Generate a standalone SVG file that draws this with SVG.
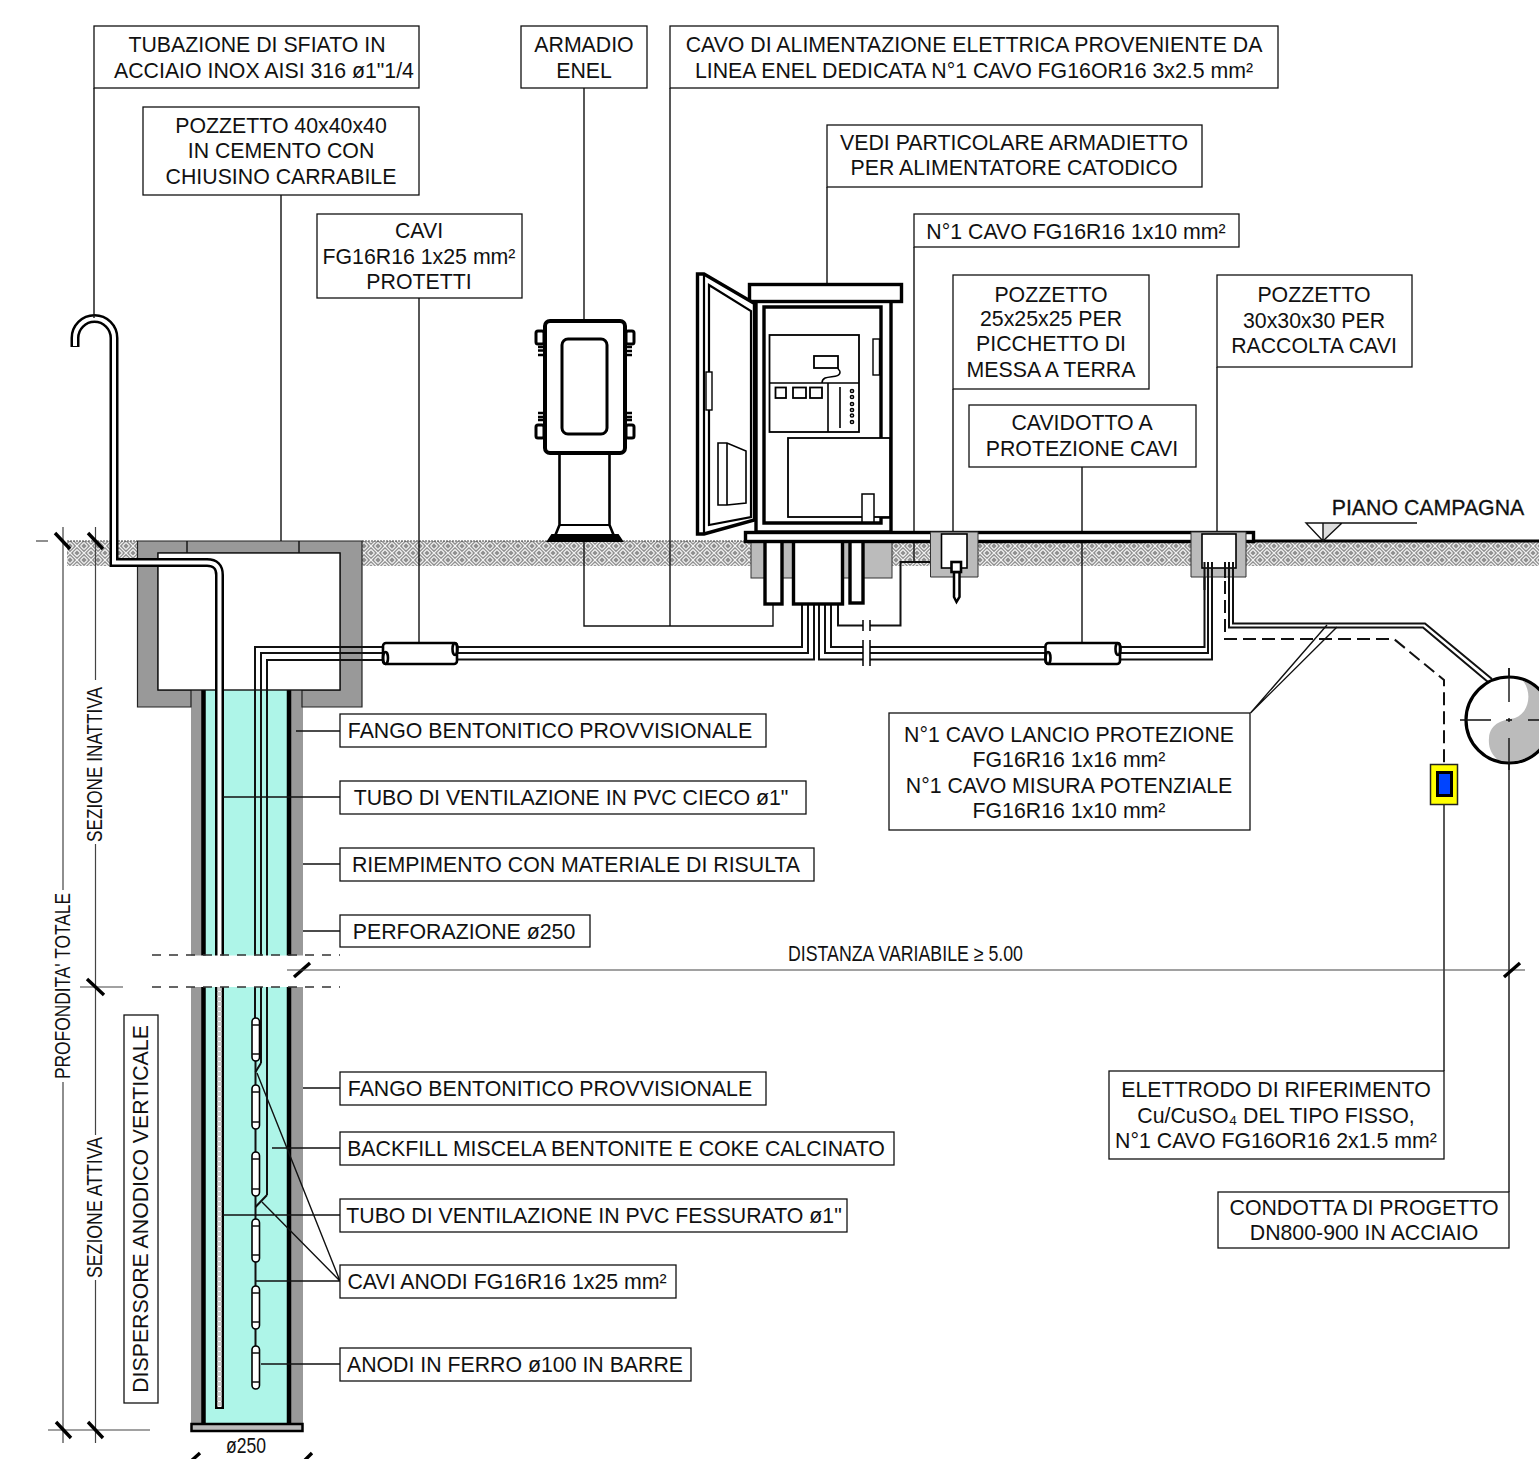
<svg xmlns="http://www.w3.org/2000/svg" width="1539" height="1459" viewBox="0 0 1539 1459">
<style>
text{font-family:"Liberation Sans",Arial,sans-serif;font-size:21.3px;fill:#111;text-anchor:middle}
.b{fill:#fff;stroke:#111;stroke-width:1.3}
.l{fill:none;stroke:#111;stroke-width:1.4}
.d{fill:none;stroke:#444;stroke-width:1.2}
.c{fill:none;stroke:#111;stroke-width:2}
.k{fill:none;stroke:#000;stroke-width:3.4}
.m{fill:none;stroke:#000;stroke-width:2.2}
.w{fill:#fff;stroke:#000;stroke-width:3.4}
.wm{fill:#fff;stroke:#000;stroke-width:2.2}
.t{stroke:#000;stroke-width:3.4}
.g{fill:#999}
.lg{fill:#bbb;stroke:#333;stroke-width:1}
.a{fill:#fff;stroke:#000;stroke-width:1.6}
.dash{fill:none;stroke:#333;stroke-width:1.3;stroke-dasharray:9 8}
.dash2{fill:none;stroke:#111;stroke-width:2;stroke-dasharray:13 6}
</style>
<defs>
<pattern id="h" width="14" height="14" patternUnits="userSpaceOnUse">
<rect width="14" height="14" fill="#909090"/>
<path d="M0 3.500L3.500 0M0 7L7 0M3.500 7L7 3.500M7 3.500L10.500 7M7 0L14 7M10.500 0L14 3.500M0 10.500L3.500 14M0 7L7 14M3.500 7L7 10.500M7 10.500L10.500 7M7 14L14 7M10.500 14L14 10.500" stroke="#f4f4f4" stroke-width="1.100" fill="none"/>
</pattern>
</defs>

<g id="ground">
<rect x="67" y="541" width="1472" height="25" fill="url(#h)"/>
<path class="d" d="M67 541H137M362 541H745" stroke-dasharray="2 1"/>
<path d="M1246 541H1539" stroke="#000" stroke-width="3" fill="none"/>
<path class="d" d="M36 541H48"/>
</g>

<g id="borehole">
<rect class="g" x="191" y="690" width="112" height="740"/>
<rect x="205" y="690" width="82" height="735" fill="#aef5e8"/>
<path d="M203.500 690V1425M289 690V1425" stroke="#000" stroke-width="4.500"/>
<rect x="191.500" y="1424" width="111" height="7" fill="#bbb" stroke="#000" stroke-width="2.500"/>
</g>

<g id="pozzetto-40">
<path class="g" d="M137.500 541H362V707H302V690H340V553H158V690H191V707H137.500Z" stroke="#222" stroke-width="1.200"/>
<rect x="158" y="553" width="182" height="137" fill="#fff" stroke="#111" stroke-width="1.400"/>
<path class="l" d="M187 541V553M299 541V553"/>
</g>

<g id="vent-pipe">
<path d="M75 347V338A19.500 19.500 0 0 1 114 338V562.500H207Q219.500 562.500 219.500 575V1409" fill="none" stroke="#000" stroke-width="9"/>
<path d="M75 346V338A19.500 19.500 0 0 1 114 338V562.500H207Q219.500 562.500 219.500 575V1407" fill="none" stroke="#fff" stroke-width="4"/>
<path d="M219.500 987V1406" stroke="#ccc" stroke-width="4" stroke-dasharray="4 1"/>
</g>

<g id="connectors">
<path class="l" d="M94 88V318M281 195V541M419 298V643M584 88V321M584 541V626H773V604M670 88V626M827 187V284M914 247V562M953 389V532M1082 467V643M1217 367V532M1444 804V1071M1509 668V1192"/>
<path class="l" d="M296 731H340M223 797H340M303 864H340M303 931H340M303 1088H340M272 1148H340M223 1215H340M256 1281H340M261 1364H340M257 1073L340 1281M262 1202L340 1281"/>
<path class="l" d="M1250.500 713L1327 625M1250.500 713L1337 627"/>
<path class="c" d="M255 1018V647H382M261 1063V653H382M267 1195V660H382"/>
<path class="c" d="M458 647H802V604M458 653H808V604M458 659.500H814V604M831 604V647H863M825 604V653H863M819 604V659.500H863"/>
<path class="c" d="M870 647H1045M870 653H1045M870 659.500H1045M1120 647H1204.500V562M1120 653H1208V562M1120 659.500H1212V562"/>
<path class="c" d="M838 604V625.500H863M870 625.500H900.500V562H951"/>
<path d="M863 640V666M870 640V666M863 620V631M870 620V631" stroke="#000" stroke-width="1.500" fill="none"/>
<path class="c" d="M1233 562V623.500H1425L1492 679M1229 562V627.500H1423L1488 682"/>
<path class="dash2" d="M1225 562V639H1394L1444 680V764"/>
<path class="c" d="M261 1063L255.500 1072M267 1195L255.500 1207"/>
<path class="c" d="M255.500 1061V1286M255.500 1329V1346"/>
</g>

<g id="anodes">
<rect class="a" x="252" y="1018" width="7.500" height="43" rx="3.700"/>
<rect class="a" x="252" y="1085" width="7.500" height="44" rx="3.700"/>
<rect class="a" x="252" y="1152" width="7.500" height="44" rx="3.700"/>
<rect class="a" x="252" y="1219" width="7.500" height="43" rx="3.700"/>
<rect class="a" x="252" y="1286" width="7.500" height="43" rx="3.700"/>
<rect class="a" x="252" y="1346" width="7.500" height="43" rx="3.700"/>
<path class="l" d="M252 1025H259.500M252 1054H259.500M252 1092H259.500M252 1122H259.500M252 1159H259.500M252 1189H259.500M252 1226H259.500M252 1255H259.500M252 1293H259.500M252 1322H259.500M252 1353H259.500M252 1382H259.500"/>
</g>

<g id="break">
<rect x="188" y="955.500" width="116" height="31.500" fill="#fff"/>
<path class="dash" d="M152 955H340M152 987H340"/>
<path d="M294 977L310 963" stroke="#000" stroke-width="3.400"/>
</g>

<g id="dimensions">
<path class="d" d="M63 527V890M63 1082V1443M95.500 527V680M95.500 844V1135M95.500 1280V1443M80 987H123M48 1430H150M287 970H1525"/>
<path class="t" d="M55 533L70 549M88 533L103 549M87 979L104 995M56 1422L71 1438M88 1422L103 1438M1504 977L1520 963M190 1462L200 1453M303 1462L312 1453"/>
<text transform="translate(70 986) rotate(-90)" textLength="186" lengthAdjust="spacingAndGlyphs">PROFONDITA' TOTALE</text>
<text transform="translate(102 764.500) rotate(-90)" textLength="155" lengthAdjust="spacingAndGlyphs">SEZIONE INATTIVA</text>
<text transform="translate(102 1207.500) rotate(-90)" textLength="141" lengthAdjust="spacingAndGlyphs">SEZIONE ATTIVA</text>
<text x="905.500" y="961" textLength="235" lengthAdjust="spacingAndGlyphs">DISTANZA VARIABILE ≥ 5.00</text>
<text x="246" y="1453" textLength="40" lengthAdjust="spacingAndGlyphs">ø250</text>
</g>

<g id="armadio-enel">
<rect x="536" y="331" width="8" height="13" rx="2" class="w" style="stroke-width:3"/>
<rect x="626" y="331" width="8" height="13" rx="2" class="w" style="stroke-width:3"/>
<rect x="536" y="425" width="8" height="13" rx="2" class="w" style="stroke-width:3"/>
<rect x="626" y="425" width="8" height="13" rx="2" class="w" style="stroke-width:3"/>
<path d="M538 347H544M538 350.500H544M538 355H544M626 347H632M626 351H632M626 355H632M538 413H544M538 417H544M538 420H544M626 413H632M626 417H632M626 420H632" stroke="#000" stroke-width="2.600"/>
<path class="wm" d="M559.500 453V525L555 536H614L609.500 525V453Z" style="stroke-width:2.600"/>
<path class="m" d="M559.500 525H609.500"/>
<path d="M548 541L552 535H618L622 541Z" fill="#000" stroke="#000" stroke-width="2"/>
<rect class="w" x="545" y="321" width="80" height="132" rx="5" style="stroke-width:4"/>
<rect x="562" y="339" width="45" height="95" rx="6" fill="#fff" stroke="#000" stroke-width="3"/>
</g>

<g id="armadietto">
<rect class="w" x="756" y="301" width="135" height="231"/>
<path class="k" d="M881 438V307H764V523H881V517H890"/>
<rect class="w" x="749.500" y="284.500" width="152" height="17"/>
<rect class="wm" x="788" y="438" width="102" height="79" style="stroke-width:1.800"/>
<rect class="wm" x="862" y="494" width="12" height="28" style="stroke-width:1.500"/>
<rect class="wm" x="769.500" y="335" width="89.500" height="97" style="stroke-width:1.800"/>
<path class="m" d="M769.500 383H859M828 383V432M840 387V428" style="stroke-width:1.600"/>
<rect class="wm" x="775.500" y="387.500" width="10.500" height="10.500" style="stroke-width:1.800"/>
<rect class="wm" x="793" y="387.500" width="13" height="10.500" style="stroke-width:1.800"/>
<rect class="wm" x="810" y="387.500" width="12" height="10.500" style="stroke-width:1.800"/>
<rect class="wm" x="814" y="356" width="24" height="12" style="stroke-width:1.800"/>
<path class="m" d="M822 383C822 373 840 380 840 372C840 370 838 370 838 368" style="stroke-width:1.500"/>
<g fill="none" stroke="#000" stroke-width="1.500">
<circle cx="852" cy="391" r="1.600"/><circle cx="852" cy="397" r="1.600"/><circle cx="852" cy="404" r="1.600"/><circle cx="852" cy="410" r="1.600"/><circle cx="852" cy="415.500" r="1.600"/><circle cx="852" cy="422" r="1.600"/>
</g>
<rect class="wm" x="873" y="339" width="6.500" height="36" style="stroke-width:1.400"/>
<path class="w" d="M697.500 274H704L754.500 303.500V520L704 534H697.500Z"/>
<path class="m" d="M704 274V534M709 285L751 311V517L709 525Z"/>
<rect class="wm" x="706" y="372" width="6" height="38" style="stroke-width:1.400"/>
<path class="m" d="M718 443H727L746 451V503L727 505H718ZM727 443V505" style="stroke-width:1.600"/>
</g>

<g id="base-plinth">
<rect x="751" y="541" width="141" height="37" class="lg"/>
<rect class="w" x="765" y="541" width="17" height="63"/>
<rect class="w" x="793.500" y="541" width="49" height="63"/>
<rect class="w" x="850" y="541" width="13" height="62"/>
<rect class="w" x="745.500" y="532.500" width="508" height="9"/>
</g>

<g id="pozzetto-25">
<path class="lg" d="M930.500 532H978V577H930.500Z"/>
<rect class="wm" x="941.500" y="534" width="25.500" height="34" style="stroke-width:1.600"/>
<path class="w" d="M954 572V597L956.500 602L959.500 597V572Z" style="stroke-width:2.500"/>
<rect class="wm" x="951.500" y="562" width="9.500" height="10" style="stroke-width:2.600"/>
</g>

<g id="pozzetto-30">
<path class="lg" d="M1191 532H1246V577H1191Z"/>
<rect class="wm" x="1202" y="534" width="34" height="34" style="stroke-width:1.600"/>
<path class="c" d="M1204.500 562V590M1208 562V590M1212 562V590M1229 562V600M1233 562V600"/>
<path d="M1225 562V578" stroke="#111" stroke-width="2"/>
</g>

<g id="cavidotti">
<g fill="none" stroke="#000" stroke-width="2.600">
<rect x="383" y="643" width="74" height="21" rx="3"/>
<ellipse cx="385.500" cy="658" rx="2.500" ry="6"/>
<ellipse cx="455" cy="649" rx="2.500" ry="6"/>
<rect x="1045.500" y="643" width="74.500" height="21" rx="3"/>
<ellipse cx="1048" cy="658" rx="2.500" ry="6"/>
<ellipse cx="1118" cy="649" rx="2.500" ry="6"/>
</g>
</g>

<g id="condotta">
<circle cx="1509" cy="720" r="43" fill="#fff"/>
<path d="M1523 681C1532 692 1530 712 1515 718C1505 720 1490 722 1489 738C1488 748 1492 755 1498 760A43 43 0 0 0 1552 720A43 43 0 0 0 1523 681Z" fill="#bbb"/>
<circle cx="1509" cy="720" r="43" fill="none" stroke="#000" stroke-width="3.200"/>
<path class="l" d="M1460 720H1491M1506 720H1512M1528 720H1539M1509 668V702M1509 718V722M1509 738V770"/>
</g>

<g id="electrode">
<rect x="1430.500" y="764.500" width="27" height="40" fill="#ff0" stroke="#222" stroke-width="1.500"/>
<rect x="1437.500" y="772.500" width="14" height="23" fill="#0044ff" stroke="#000" stroke-width="3"/>
</g>

<g id="piano-campagna">
<path d="M1323 523H1342L1323 541Z" fill="#ddd"/>
<path class="l" d="M1417 523H1306L1323 541L1342 523M1323 523V541"/>
<text x="1428" y="515" style="stroke:#111;stroke-width:.3">PIANO CAMPAGNA</text>
</g>

<g id="label-tubazione"><rect class="b" x="94" y="26" width="325" height="62"/><text x="257" y="52">TUBAZIONE DI SFIATO IN</text><text x="264" y="78">ACCIAIO INOX AISI 316 ø1"1/4</text></g>
<g id="label-pozzetto40"><rect class="b" x="143" y="107" width="276" height="88"/><text x="281" y="133">POZZETTO 40x40x40</text><text x="281" y="158">IN CEMENTO CON</text><text x="281" y="184">CHIUSINO CARRABILE</text></g>
<g id="label-cavi"><rect class="b" x="317" y="214" width="205" height="84"/><text x="419" y="238">CAVI</text><text x="419" y="264">FG16R16 1x25 mm²</text><text x="419" y="289">PROTETTI</text></g>
<g id="label-armadio"><rect class="b" x="521" y="26" width="126" height="62"/><text x="584" y="52">ARMADIO</text><text x="584" y="78">ENEL</text></g>
<g id="label-cavo"><rect class="b" x="670" y="26" width="608" height="62"/><text x="974" y="52">CAVO DI ALIMENTAZIONE ELETTRICA PROVENIENTE DA</text><text x="974" y="78">LINEA ENEL DEDICATA N°1 CAVO FG16OR16 3x2.5 mm²</text></g>
<g id="label-vedi"><rect class="b" x="827" y="125" width="375" height="62"/><text x="1014" y="150">VEDI PARTICOLARE ARMADIETTO</text><text x="1014" y="175">PER ALIMENTATORE CATODICO</text></g>
<g id="label-cavo10"><rect class="b" x="914" y="214" width="325" height="33"/><text x="1076" y="239">N°1 CAVO FG16R16 1x10 mm²</text></g>
<g id="label-pozzetto25"><rect class="b" x="953" y="275" width="196" height="114"/><text x="1051" y="302">POZZETTO</text><text x="1051" y="326">25x25x25 PER</text><text x="1051" y="351">PICCHETTO DI</text><text x="1051" y="377">MESSA A TERRA</text></g>
<g id="label-pozzetto30"><rect class="b" x="1217" y="275" width="195" height="92"/><text x="1314" y="302">POZZETTO</text><text x="1314" y="328">30x30x30 PER</text><text x="1314" y="353">RACCOLTA CAVI</text></g>
<g id="label-cavidotto"><rect class="b" x="969" y="405" width="227" height="62"/><text x="1082" y="430">CAVIDOTTO A</text><text x="1082" y="456">PROTEZIONE CAVI</text></g>
<g id="label-lancio"><rect class="b" x="889" y="713" width="361" height="117"/><text x="1069" y="742">N°1 CAVO LANCIO PROTEZIONE</text><text x="1069" y="767">FG16R16 1x16 mm²</text><text x="1069" y="793">N°1 CAVO MISURA POTENZIALE</text><text x="1069" y="818">FG16R16 1x10 mm²</text></g>
<g id="label-elettrodo"><rect class="b" x="1109" y="1071" width="335" height="88"/><text x="1276" y="1097">ELETTRODO DI RIFERIMENTO</text><text x="1276" y="1123">Cu/CuSO₄ DEL TIPO FISSO,</text><text x="1276" y="1148">N°1 CAVO FG16OR16 2x1.5 mm²</text></g>
<g id="label-condotta"><rect class="b" x="1218" y="1192" width="291" height="56"/><text x="1364" y="1215">CONDOTTA DI PROGETTO</text><text x="1364" y="1240">DN800-900 IN ACCIAIO</text></g>
<g id="label-fango1"><rect class="b" x="340" y="714" width="426" height="33"/><text x="550" y="738">FANGO BENTONITICO PROVVISIONALE</text></g>
<g id="label-tubo1"><rect class="b" x="340" y="781" width="466" height="33"/><text x="571" y="805">TUBO DI VENTILAZIONE IN PVC CIECO ø1"</text></g>
<g id="label-riemp"><rect class="b" x="340" y="848" width="474" height="33"/><text x="576" y="872">RIEMPIMENTO CON MATERIALE DI RISULTA</text></g>
<g id="label-perf"><rect class="b" x="340" y="915" width="250" height="32"/><text x="464" y="939">PERFORAZIONE ø250</text></g>
<g id="label-fango2"><rect class="b" x="340" y="1072" width="426" height="33"/><text x="550" y="1096">FANGO BENTONITICO PROVVISIONALE</text></g>
<g id="label-backfill"><rect class="b" x="340" y="1132" width="554" height="33"/><text x="616" y="1156">BACKFILL MISCELA BENTONITE E COKE CALCINATO</text></g>
<g id="label-tubo2"><rect class="b" x="340" y="1199" width="507" height="33"/><text x="594" y="1223">TUBO DI VENTILAZIONE IN PVC FESSURATO ø1"</text></g>
<g id="label-cavi-anodi"><rect class="b" x="340" y="1265" width="336" height="33"/><text x="507" y="1289">CAVI ANODI FG16R16 1x25 mm²</text></g>
<g id="label-anodi"><rect class="b" x="340" y="1348" width="351" height="33"/><text x="515" y="1372">ANODI IN FERRO ø100 IN BARRE</text></g>
<g id="label-dispersore"><rect class="b" x="124" y="1015" width="34" height="388"/><text transform="translate(148 1209) rotate(-90)">DISPERSORE ANODICO VERTICALE</text></g>
</svg>
